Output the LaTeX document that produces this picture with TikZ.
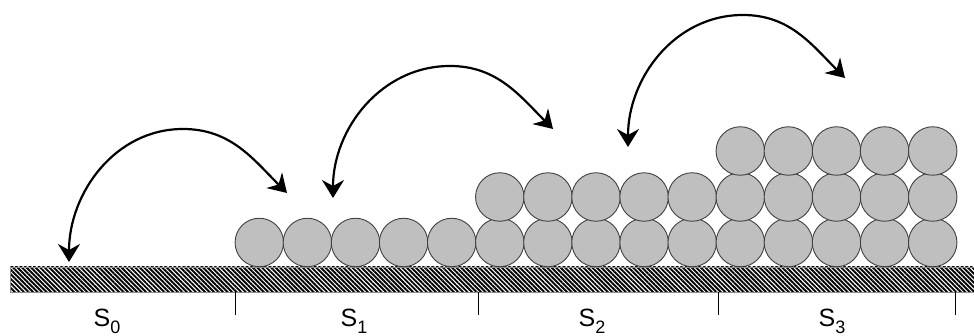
\documentclass[tikz,border=0pt]{standalone}
\usepackage{fontspec}
\setmainfont{Liberation Sans}
\usetikzlibrary{arrows.meta,patterns.meta,positioning}
\tikzset{
  ball/.style={circle,draw=black!75,line width=0.9pt,fill=gray!50,minimum size=48.5pt,inner sep=0pt},
  subs/.style={draw=black!45,line width=0.8pt,pattern={Lines[angle=-45,distance=3.2pt,line width=1.9pt]},pattern color=black},
  arr/.style={{Stealth[length=18pt,width=22pt,inset=6pt]}-{Stealth[length=18pt,width=22pt,inset=6pt]},line width=2.2pt},
  lbl/.style={font=\fontsize{25}{25}\selectfont,inner sep=0pt,anchor=base},
  tk/.style={line width=0.9pt},
}
\newcommand{\lsub}[1]{\raisebox{-7pt}{\fontsize{18}{18}\selectfont #1}}

\begin{document}
\begin{tikzpicture}[x=1pt,y=1pt]
  \useasboundingbox (0,0) rectangle (974,336);
  % substrate
  \draw[subs] (10,44) rectangle (980,69);
  \foreach \x in {235,478,718,955} \draw[tk] (\x,44) -- (\x,21);
  \node[lbl] (s0) at (107,9.5) {S\lsub{0}};
  \node[lbl] (s1) at (354,9.5) {S\lsub{1}};
  \node[lbl] (s2) at (592,9.5) {S\lsub{2}};
  \node[lbl] (s3) at (832,9.5) {S\lsub{3}};
  % layers
  \foreach \i in {0,...,14} \node[ball] (r1-\i) at ({259.3+48.1*\i},93.5) {};
  \foreach \i in {5,...,14} \node[ball] (r2-\i) at ({259.3+48.1*\i},139) {};
  \foreach \i in {10,...,14} \node[ball] (r3-\i) at ({259.3+48.1*\i},185) {};
  % hops
  \coordinate (a0) at (69,74);  \coordinate (p0) at (183,207); \coordinate (b0) at (287,143);
  \coordinate (a1) at (333,138); \coordinate (p1) at (450,270); \coordinate (b1) at (553,207);
  \coordinate (a2) at (628,189); \coordinate (p2) at (743,321); \coordinate (b2) at (845,258);
  \draw[arr] (a0) to[out=90,in=180] (p0) to[out=0,in=135] (b0);
  \draw[arr] (a1) to[out=90,in=180] (p1) to[out=0,in=135] (b1);
  \draw[arr] (a2) to[out=90,in=180] (p2) to[out=0,in=135] (b2);
\end{tikzpicture}
\end{document}
